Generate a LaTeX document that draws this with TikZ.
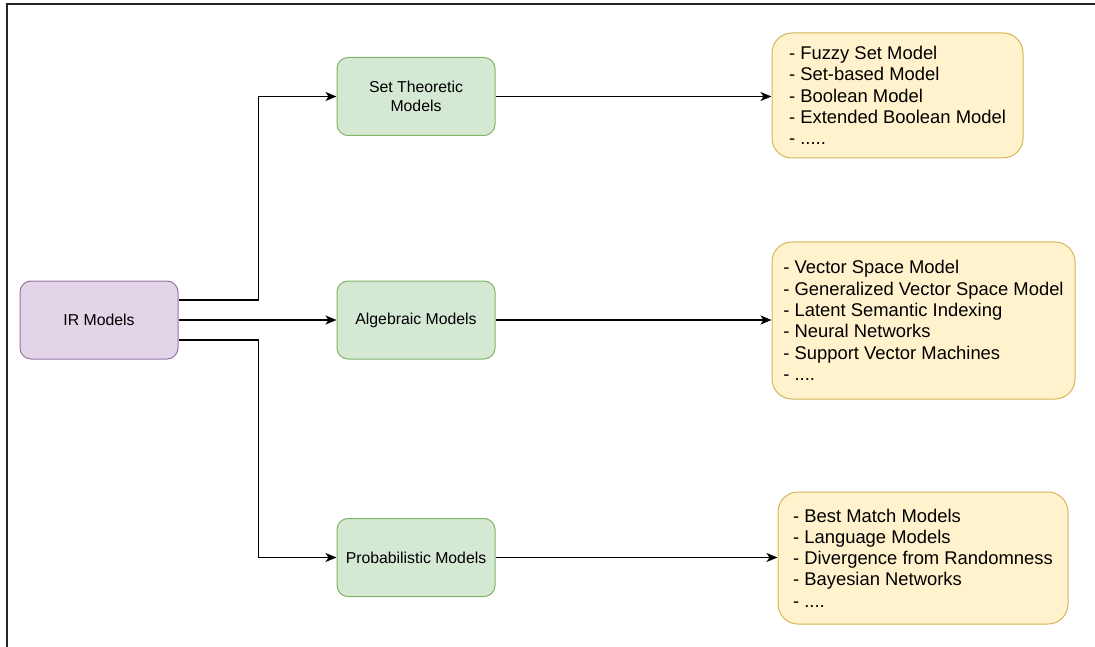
\documentclass[tikz,border=0pt]{standalone}
\usepackage{fontspec}
\setmainfont{Liberation Sans}
\usetikzlibrary{arrows.meta}

\definecolor{irfill}{HTML}{E1D5E7}
\definecolor{irline}{HTML}{9673A6}
\definecolor{grfill}{HTML}{D5E8D4}
\definecolor{grline}{HTML}{82B366}
\definecolor{yefill}{HTML}{FFF2CC}
\definecolor{yeline}{HTML}{D6B656}

\tikzset{
	box/.style={draw, line width=1pt, rounded corners=11pt, minimum width=158pt, minimum height=78pt,
		align=center, inner sep=0pt, font=\fontsize{15.8}{19}\selectfont},
	irbox/.style={box, fill=irfill, draw=irline},
	grbox/.style={box, fill=grfill, draw=grline},
	lst/.style={draw=yeline, fill=yefill, line width=1pt, rounded corners=20pt, align=left, inner sep=0pt,
		font=\fontsize{18.4}{21.3}\selectfont},
	arr/.style={line width=1.2pt, -{Stealth[length=11pt,width=9pt,inset=3pt]}}
}

\begin{document}
\begin{tikzpicture}[x=1pt,y=-1pt]
	\useasboundingbox (0,0) rectangle (1095,647);
	\draw[line width=1.6pt, black!85] (7,647) -- (7,4) -- (1095,4);

	\node[irbox] (ir) at (99,320) {IR Models};
	\node[grbox] (set) at (416,96.5) {Set Theoretic\\Models};
	\node[grbox] (alg) at (416,320) {Algebraic Models};
	\node[grbox] (prob) at (416,557.5) {Probabilistic Models};

	\node[lst, minimum width=251pt, minimum height=125pt] (setlist) at (897.5,95.5)
		{- Fuzzy Set Model\\- Set-based Model\\- Boolean Model\\- Extended Boolean Model\\- .....};
	\node[lst, minimum width=303pt, minimum height=157pt] (alglist) at (923.5,320.5)
		{- Vector Space Model\\- Generalized Vector Space Model\\- Latent Semantic Indexing\\- Neural Networks\\- Support Vector Machines\\- ....};
	\node[lst, minimum width=290pt, minimum height=132pt] (problist) at (923,558)
		{- Best Match Models\\- Language Models\\- Divergence from Randomness\\- Bayesian Networks\\- ....};

	\draw[arr] ([yshift=20pt]ir.east) -- ++(80,0) |- (set.west);
	\draw[arr] (ir.east) -- (alg.west);
	\draw[arr] ([yshift=-20pt]ir.east) -- ++(80,0) |- (prob.west);

	\draw[arr] (set.east) -- (set.east -| setlist.west);
	\draw[arr] (alg.east) -- (alg.east -| alglist.west);
	\draw[arr] (prob.east) -- (prob.east -| problist.west);
\end{tikzpicture}
\end{document}
